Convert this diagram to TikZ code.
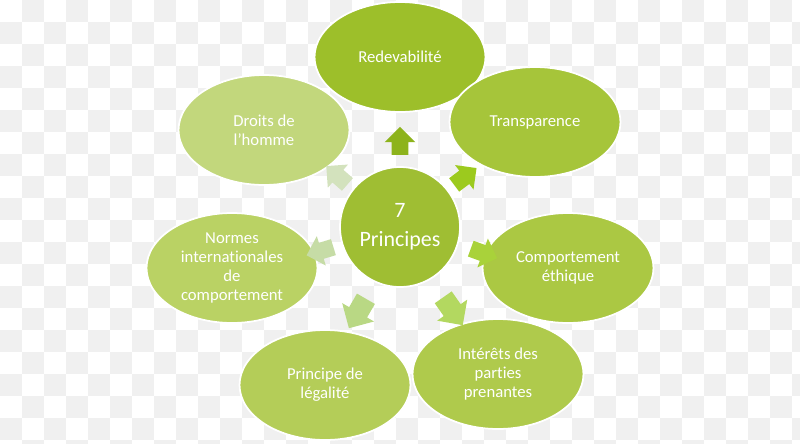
\documentclass[tikz,border=0pt]{standalone}
\usepackage{fontspec}
\setmainfont[Ligatures=NoCommon]{Carlito}
\usepackage{tikz}
\usetikzlibrary{shapes.geometric,shapes.arrows,positioning}

\definecolor{gA}{HTML}{9DBF2A}
\definecolor{gB}{HTML}{A6C53A}
\definecolor{gC}{HTML}{ABC843}
\definecolor{gD}{HTML}{AFCA4C}
\definecolor{gE}{HTML}{B4CD58}
\definecolor{gF}{HTML}{BAD264}
\definecolor{gG}{HTML}{C2D77C}
\definecolor{gHub}{HTML}{9FBE33}
\definecolor{aA}{HTML}{8DB31C}
\definecolor{aB}{HTML}{9CCA1E}
\definecolor{aC}{HTML}{A9D23A}
\definecolor{aD}{HTML}{B3D860}
\definecolor{aE}{HTML}{B9D884}
\definecolor{aF}{HTML}{C6DCA6}
\definecolor{aG}{HTML}{D3E2BD}

\begin{document}
\begin{tikzpicture}[
    x=0.02cm, y=-0.02cm,
    petal/.style={ellipse, draw=white, line width=1pt, minimum width=3.42cm, minimum height=2.2cm,
        inner sep=0pt, text=white, align=center, font=\fontsize{9.5}{10.8}\selectfont},
    hub/.style={circle, draw=white, line width=1pt, fill=gHub, minimum size=2.4cm, inner sep=0pt,
        text=white, align=center, font=\fontsize{12.5}{16.5}\selectfont},
    spoke/.style={single arrow, minimum height=0.56cm, inner xsep=0pt, inner ysep=0.16cm,
        single arrow head extend=0.14cm},
    bigspoke/.style={spoke, minimum height=0.68cm, inner ysep=0.2cm, single arrow head extend=0.16cm}
]
\useasboundingbox (0,0) rectangle (800,443);
\fill[white] (0,0) rectangle (800,443);
% faint checker in the background
\foreach \i in {0,...,36} {
  \foreach \j in {0,...,20} {
    \pgfmathtruncatemacro{\odd}{mod(\i+\j,2)}
    \ifnum\odd=1
      \fill[black!6] (\i*22,\j*22) rectangle ++(22,22);
    \fi
  }
}

\node [hub] (hub) at (400,227) {7\\Principes};

\node [petal, fill=gA] (redev) at (400,57) {Redevabilité};
\node [petal, fill=gB] (transp) at (535,122) {Transparence};
\node [petal, fill=gC] (ethique) at (568,268) {Comportement\\éthique};
\node [petal, fill=gD] (parties) at (498,374) {Intérêts des\\parties\\prenantes};
\node [petal, fill=gE] (legal) at (325,385) {Principe de\\légalité};
\node [petal, fill=gF] (normes) at (232,268) {Normes\\internationales\\de\\comportement};
\node [petal, fill=gG] (droits) at (264,130) {Droits de\\l’homme};

% arrows from the hub
\node [spoke, fill=aA, rotate=90] (s1) at (400,145) {};
\node [spoke, fill=aB, rotate=37] (s2) at (462,179) {};
\node [spoke, fill=aC, rotate=-20] (s3) at (480,252) {};
\node [bigspoke, fill=aD, rotate=-55] (s4) at (450,307) {};
\node [bigspoke, fill=aE, rotate=-120] (s5) at (360,309) {};
\node [spoke, fill=aF, rotate=-163] (s6) at (324,250) {};
\node [spoke, fill=aG, rotate=139] (s7) at (340,178) {};

\end{tikzpicture}
\end{document}
